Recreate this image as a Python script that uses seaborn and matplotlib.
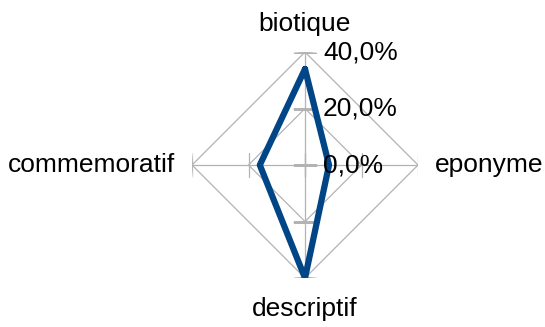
import numpy as np
import pandas as pd
import matplotlib
matplotlib.use("Agg")
import matplotlib.pyplot as plt
import seaborn as sns

# données (en %)
categories = ['biotique', 'eponyme', 'descriptif', 'commemoratif']
valeurs = [34.0, 8.5, 40.0, 16.0]
r_ticks = [0, 20, 40]
r_tick_labels = ['0,0%', '20,0%', '40,0%']

LINE_COLOR = '#004586'
GRID_COLOR = '#b3b3b3'

sns.set_theme(style='white')
plt.rcParams['font.family'] = ['Liberation Sans', 'DejaVu Sans']

angles = np.linspace(0, 2 * np.pi, len(categories), endpoint=False)
angles_fermes = np.append(angles, angles[0])

fig = plt.figure(figsize=(5.45, 3.27), dpi=100)
ax = fig.add_axes([0.3523, 0.1498, 0.4147, 0.6911], projection='polar')
ax.set_theta_offset(np.pi / 2)
ax.set_theta_direction(-1)
ax.set_ylim(0, r_ticks[-1])
ax.grid(False)
ax.spines['polar'].set_visible(False)
ax.set_xticks([])
ax.set_yticks([])
ax.patch.set_alpha(0)

# grille en losanges + rayons avec petites graduations
for r in r_ticks[1:]:
    ax.plot(angles_fermes, [r] * len(angles_fermes), color=GRID_COLOR, lw=0.9, zorder=1)
for a in angles:
    ax.plot([a, a], [0, r_ticks[-1]], color=GRID_COLOR, lw=0.9, zorder=1)
    mk = '_' if np.isclose(np.sin(a), 0) else '|'
    ax.plot([a] * len(r_ticks), r_ticks, ls='none', marker=mk, ms=17, mew=0.9,
            color=GRID_COLOR, zorder=1)

# série
df = pd.DataFrame({'angle': angles_fermes, 'valeur': valeurs + valeurs[:1]})
sns.lineplot(data=df, x='angle', y='valeur', sort=False, estimator=None, ax=ax,
             color=LINE_COLOR, lw=4.5, zorder=3,
             solid_joinstyle='round', solid_capstyle='round')
ax.set_xlabel('')
ax.set_ylabel('')

# étiquettes des valeurs radiales
for r, lab in zip(r_ticks, r_tick_labels):
    ax.annotate(lab, xy=(0, r), xytext=(13, 0), textcoords='offset points',
                ha='left', va='center', fontsize=19, color='black', zorder=4)

# étiquettes des catégories
offsets = {
    'biotique': ((0, 20), 'center', 'center'),
    'eponyme': ((12, 0), 'left', 'center'),
    'descriptif': ((0, -22), 'center', 'center'),
    'commemoratif': ((-12, 0), 'right', 'center'),
}
for a, cat in zip(angles, categories):
    off, ha, va = offsets[cat]
    ax.annotate(cat, xy=(a, r_ticks[-1]), xytext=off, textcoords='offset points',
                ha=ha, va=va, fontsize=19, color='black', annotation_clip=False)

fig.savefig('out.png', dpi=100)
